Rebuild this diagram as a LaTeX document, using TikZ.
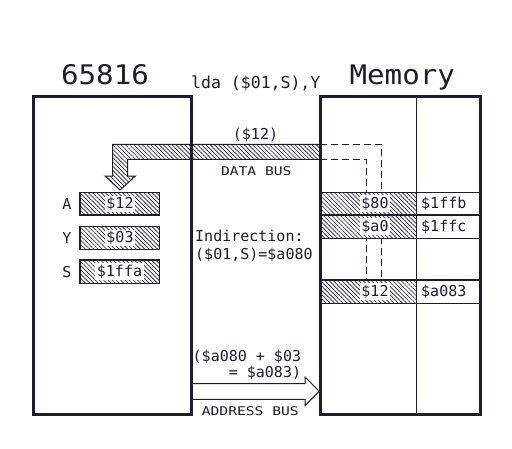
\documentclass[tikz,border=0pt]{standalone}
\usepackage{fontspec}
\usepackage{graphicx}
\setmainfont{DejaVu Sans Mono}
\usetikzlibrary{patterns.meta}
\definecolor{ink}{RGB}{28,28,48}
\begin{document}
\begin{tikzpicture}[x=1pt,y=-1pt,
  every node/.style={inner sep=0pt, text=ink},
  thickbox/.style={draw=ink, line width=3pt},
  thinline/.style={draw=ink, line width=1.3pt},
  hatch/.style={pattern={Lines[angle=-45,distance=3pt,line width=0.65pt]}, pattern color=ink},
  cell/.style={fill=white, postaction={hatch}},
  lbl/.style={font=\fontsize{15}{18}\selectfont},
  vlbl/.style={lbl, fill=white, inner sep=1.5pt},
  busdash/.style={draw=ink, line width=1.2pt, dash pattern=on 7pt off 4pt},
  titlefont/.style={font=\fontsize{27}{30}\selectfont, anchor=base},
  buslbl/.style={font=\fontsize{12}{14}\selectfont}]
\useasboundingbox (0,0) rectangle (512,448);
\fill[white] (0,0) rectangle (512,448);

% coordinates
\coordinate (cpuTL) at (33,96.5);
\coordinate (cpuBR) at (191,414);
\coordinate (memTL) at (320,96.5);
\coordinate (memBR) at (480,414);

% data bus (hatched arrow from memory to CPU)
\path[hatch] (320,144.3) -- (112.7,144.3) -- (112.7,176) -- (105,176) -- (120.2,190) -- (135.4,176) -- (127.7,176) -- (127.7,159.3) -- (320,159.3) -- cycle;
\draw[ink, line width=1pt] (320,144.3) -- (112.7,144.3) -- (112.7,176) -- (105,176) -- (120.2,190) -- (135.4,176) -- (127.7,176) -- (127.7,159.3) -- (320,159.3);

% dashed path inside memory
\draw[busdash] (320,144.3) -- (381.7,144.3) -- (381.7,280);
\draw[busdash] (320,159.3) -- (366.7,159.3) -- (366.7,280);

% memory hatched cells
\path[cell] (320,192.3) rectangle (416.7,215);
\path[cell] (320,215) rectangle (416.7,238.3);
\path[cell] (320,280) rectangle (416.7,303.3);
\foreach \yy in {192.3,215,238.3,280,303.3}
  \draw[thinline] (320,\yy) -- (480,\yy);
\draw[thinline] (416.7,96.5) -- (416.7,414);

% registers
\path[cell, thinline] (80,192.7) rectangle (159.3,215);
\path[cell, thinline] (80,226.7) rectangle (159.3,249.3);
\path[cell, thinline] (80,260) rectangle (159.3,283.3);

% address bus (hollow arrow)
\draw[ink, line width=1pt, fill=white] (191,383.7) -- (305,383.7) -- (305,377) -- (319.3,391.3) -- (305,405.6) -- (305,399.3) -- (191,399.3);

% main boxes
\draw[thickbox] (cpuTL) rectangle (cpuBR);
\draw[thickbox] (memTL) rectangle (memBR);

% titles
\node[titlefont] (cpu) at (105,84) {\scalebox{1.08}[1]{65816}};
\node[titlefont] (mem) at (402.3,84) {\scalebox{1.08}[1]{Memory}};
\node[anchor=base, font=\fontsize{16.5}{20}\selectfont] (ins) at (255.8,88.3) {lda (\$01,S),Y};

% bus labels
\node[lbl] (dv) at (255.5,135) {(\$12)};
\node[buslbl] (db) at (256.3,170.8) {\scalebox{1.22}[1]{DATA BUS}};
\node[lbl, anchor=base west] (ind1) at (195,241.7) {Indirection:};
\node[lbl, anchor=base west] (ind2) at (195,259.3) {(\$01,S)=\$a080};
\node[lbl, anchor=base west] (ad1) at (192.5,361) {(\$a080 + \$03};
\node[lbl, anchor=base west] (ad2) at (192.5,377) {\phantom{0000}= \$a083)};
\node[buslbl] (ab) at (250.3,410.8) {\scalebox{1.22}[1]{ADDRESS BUS}};

% register labels
\node[lbl] (la) at (67,204) {A};
\node[lbl] (ly) at (67,238) {Y};
\node[lbl] (ls) at (67,271.7) {S};
\node[vlbl] (va) at (120,204) {\$12};
\node[vlbl] (vy) at (120,238) {\$03};
\node[vlbl] (vs) at (119.5,271.7) {\$1ffa};

% memory labels
\node[vlbl] (m1) at (375,203.7) {\$80};
\node[vlbl] (m2) at (375,226.7) {\$a0};
\node[vlbl] (m3) at (375,291.7) {\$12};
\node[lbl, anchor=west] (a1) at (421,203.7) {\$1ffb};
\node[lbl, anchor=west] (a2) at (421,226.7) {\$1ffc};
\node[lbl, anchor=west] (a3) at (421,291.7) {\$a083};
\end{tikzpicture}
\end{document}
